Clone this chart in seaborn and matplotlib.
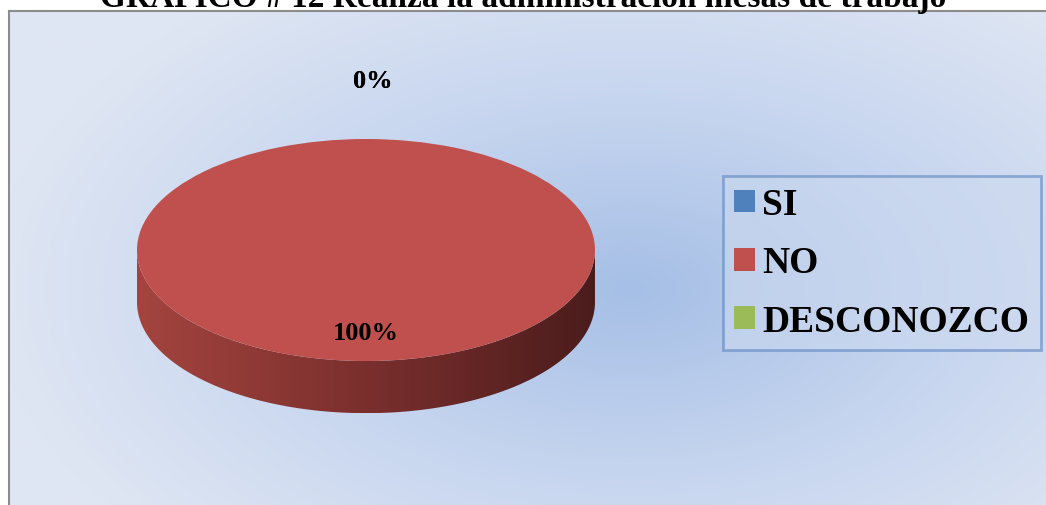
import numpy as np
import seaborn as sns
import matplotlib.pyplot as plt
from matplotlib.patches import Polygon, Patch
from matplotlib.colors import LinearSegmentedColormap

# data
categorias = ['SI', 'NO', 'DESCONOZCO']
valores = [0, 100, 0]
colores = ['#4f81bd', '#c0504d', '#9bbb59']
titulo = 'GRAFICO # 12 Realiza la administración mesas de trabajo'

sns.set_theme(style='white')
plt.rcParams['font.family'] = ['Liberation Serif', 'DejaVu Serif']
plt.rcParams['text.color'] = 'black'

W, H = 1046, 506
fig = plt.figure(figsize=(W / 100, H / 100), dpi=100)
fig.patch.set_facecolor('white')

# background panel with radial gradient
bg = fig.add_axes([9 / W, 0, (W - 9) / W, (H - 12) / H])
yy, xx = np.mgrid[0:1:300j, 0:1:600j]
cx, cy = (630 - 9) / (W - 9), (290 - 12) / (H - 12)
r = np.sqrt(((xx - cx) / 0.62) ** 2 + ((yy - cy) / 0.75) ** 2)
r = np.clip(r, 0, 1)
bg_cmap = LinearSegmentedColormap.from_list('bg', ['#a6bfe6', '#c6d5ef', '#dfe6f3'])
bg.imshow(r, cmap=bg_cmap, aspect='auto', extent=(0, 1, 1, 0), interpolation='bilinear')
bg.set_xlim(0, 1)
bg.set_ylim(1, 0)
bg.set_xticks([])
bg.set_yticks([])
for s in ['right', 'bottom']:
    bg.spines[s].set_visible(False)
for s in ['left', 'top']:
    bg.spines[s].set_color('#8c8c8c')
    bg.spines[s].set_linewidth(1.5)

# pie axes: ellipse 3d look
a_px, b_px, depth = 229, 111, 0.47
cx_px, cy_px = 366, 251
h_units = 2 + depth
ax = fig.add_axes([(cx_px - a_px) / W, (H - cy_px - b_px * (1 + depth)) / H,
                   2 * a_px / W, h_units * b_px / H])
ax.patch.set_alpha(0)

t = np.linspace(np.pi, 2 * np.pi, 200)
side = np.concatenate([np.column_stack([np.cos(t), np.sin(t)]),
                       np.column_stack([np.cos(t[::-1]), np.sin(t[::-1]) - depth])])
side_poly = Polygon(side, closed=True, facecolor='none', edgecolor='none')
ax.add_patch(side_poly)
side_cmap = LinearSegmentedColormap.from_list('side', ['#a4443f', '#7a2f2d', '#4b1c1c'])
grad = np.linspace(0, 1, 256).reshape(1, -1)
im = ax.imshow(grad, cmap=side_cmap, aspect='auto', extent=(-1, 1, -1 - depth, 0.1),
               zorder=1)
im.set_clip_path(side_poly)

wedges, _ = ax.pie(valores, colors=colores, startangle=90, counterclock=True,
                   radius=1, center=(0, 0), frame=True,
                   wedgeprops=dict(linewidth=0, zorder=2))
ax.set_xlim(-1, 1)
ax.set_ylim(-1 - depth, 1)
ax.set_aspect('auto')
ax.axis('off')

total = sum(valores)
for w, v in zip(wedges, valores):
    ang = np.deg2rad((w.theta1 + w.theta2) / 2)
    dist = 0.74 if v > 0 else 1.53
    ax.text(dist * np.cos(ang) + (0 if v > 0 else 0.03), dist * np.sin(ang),
            f'{v / total * 100:.0f}%', ha='center', va='center',
            fontsize=19, fontweight='bold', color='black', zorder=5, clip_on=False)

# legend
handles = [Patch(facecolor=c, edgecolor='none') for c in colores]
leg = fig.legend(handles, categorias, loc='center left',
                 bbox_to_anchor=(723 / W, (H - 264) / H),
                 prop=dict(family='Liberation Serif', weight='bold', size=27),
                 frameon=True, fancybox=False, edgecolor='#5b86c0',
                 facecolor='#ccd9ef', framealpha=0.6,
                 handlelength=0.55, handleheight=0.55, handletextpad=0.2,
                 labelspacing=0.62, borderpad=0.3, borderaxespad=0)
leg.get_frame().set_linewidth(2)
for txt in leg.get_texts():
    txt.set_color('black')

fig.text(523 / W, (H - 7) / H, titulo, ha='center', va='baseline',
         fontsize=24, fontweight='bold', color='black')

fig.savefig('out.png', dpi=100)
